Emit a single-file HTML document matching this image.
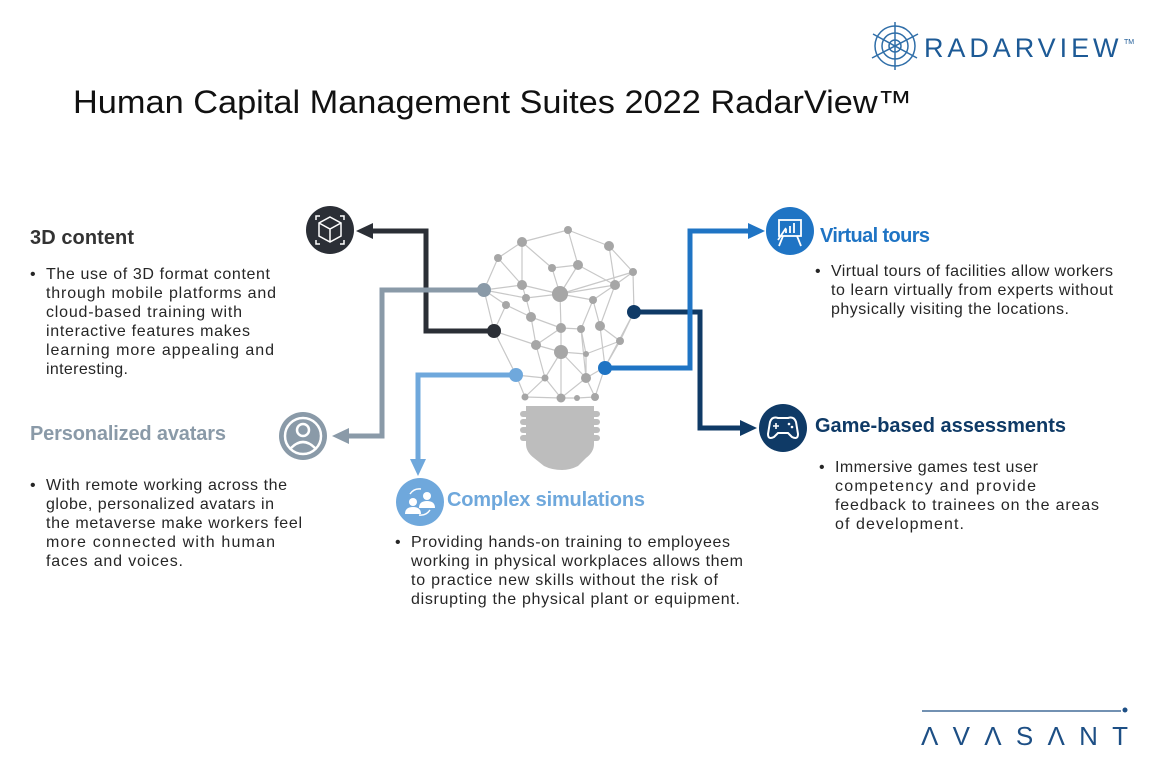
<!DOCTYPE html>
<html><head><meta charset="utf-8"><style>
html,body{margin:0;padding:0;background:#fff;}
svg{display:block;}
text{font-family:"Liberation Sans",sans-serif;}
.b{font-size:16px;fill:#262626;}
.h{font-size:20px;font-weight:bold;}
</style></head><body>
<svg width="1152" height="768" viewBox="0 0 1152 768" xmlns="http://www.w3.org/2000/svg">
<g stroke="#2f6ea8" fill="none" stroke-width="1.5">
<circle cx="895" cy="46" r="20"/><circle cx="895" cy="46" r="13"/><circle cx="895" cy="46" r="6"/>
<line x1="895" y1="22" x2="895" y2="70"/><line x1="872" y1="58" x2="918" y2="34"/><line x1="873" y1="34" x2="917" y2="58"/>
</g>
<text x="924" y="57" font-size="27" fill="#1d5a96" letter-spacing="3.5" textLength="198">RADARVIEW</text>
<text x="1124" y="44" font-size="7" fill="#1d5a96">TM</text>
<text x="73" y="113" font-size="32" fill="#111" textLength="839" lengthAdjust="spacingAndGlyphs">Human Capital Management Suites 2022 RadarView™</text>

<g stroke="#c8c8c8" stroke-width="1.2">
<path d="M568 230L522 242M568 230L578 265M568 230L609 246M522 242L498 258M522 242L552 268M522 242L522 285M498 258L484 290M498 258L522 285M552 268L578 265M552 268L560 294M578 265L615 285M578 265L560 294M609 246L615 285M609 246L633 272M633 272L615 285M633 272L634 312M615 285L593 300M615 285L600 326M615 285L560 294M522 285L484 290M522 285L526 298M522 285L560 294M484 290L494 331M484 290L506 305M484 290L526 298M526 298L560 294M526 298L531 317M506 305L531 317M506 305L494 331M560 294L593 300M560 294L561 328M593 300L600 326M593 300L581 329M600 326L620 341M600 326L605 367M620 341L634 312M620 341L605 367M620 341L586 354M531 317L536 345M531 317L561 328M494 331L536 345M494 331L516 375M536 345L561 328M536 345L561 352M536 345L545 378M561 328L581 329M561 328L561 352M581 329L586 354M561 352L545 378M561 352L586 378M561 352L586 354M561 352L561 398M586 354L586 378M586 378L605 367M586 378L595 397M586 378L561 398M545 378L516 375M545 378L525 397M545 378L561 398M516 375L525 397M525 397L561 398M561 398L577 398M577 398L595 397M595 397L605 367M581 329L586 378M560 294L633 272M634 312L605 367"/>
</g>
<g fill="#a6a6a6">
<circle cx="568" cy="230" r="4"/><circle cx="522" cy="242" r="5"/><circle cx="609" cy="246" r="5"/><circle cx="498" cy="258" r="4"/><circle cx="552" cy="268" r="4"/><circle cx="578" cy="265" r="5"/><circle cx="633" cy="272" r="4"/><circle cx="522" cy="285" r="5"/><circle cx="615" cy="285" r="5"/><circle cx="560" cy="294" r="8"/><circle cx="526" cy="298" r="4"/><circle cx="593" cy="300" r="4"/><circle cx="506" cy="305" r="4"/><circle cx="531" cy="317" r="5"/><circle cx="561" cy="328" r="5"/><circle cx="581" cy="329" r="4"/><circle cx="600" cy="326" r="5"/><circle cx="536" cy="345" r="5"/><circle cx="561" cy="352" r="7"/><circle cx="620" cy="341" r="4"/><circle cx="586" cy="354" r="3"/><circle cx="545" cy="378" r="3.5"/><circle cx="586" cy="378" r="5"/><circle cx="525" cy="397" r="3.5"/><circle cx="561" cy="398" r="4.5"/><circle cx="577" cy="398" r="3"/><circle cx="595" cy="397" r="4"/>
</g>
<g fill="#bdbdbd">
<path d="M526 406H594V444Q594 452 586 458L578 466Q570 470 562 470Q552 470 544 466L534 458Q526 452 526 444Z"/>
<rect x="520" y="411" width="80" height="6" rx="3"/><rect x="520" y="419" width="80" height="6" rx="3"/><rect x="520" y="427" width="80" height="6" rx="3"/><rect x="520" y="435" width="80" height="6" rx="3"/>
</g>

<g fill="none" stroke-width="5">
<path d="M494 331H426V231H372" stroke="#2b2f36"/>
<path d="M484 290H382V436H349" stroke="#8a9aa8"/>
<path d="M516 375H418V460" stroke="#6fa8dc"/>
<path d="M634 312H700V428H740" stroke="#0f3a66"/>
<path d="M605 368H690V231H748" stroke="#1f74c4"/>
</g>
<polygon points="356,231 373,223 373,239" fill="#2b2f36"/>
<polygon points="332,436 349,428 349,444" fill="#8a9aa8"/>
<polygon points="418,476 410,459 426,459" fill="#6fa8dc"/>
<polygon points="757,428 740,420 740,436" fill="#0f3a66"/>
<polygon points="765,231 748,223 748,239" fill="#1f74c4"/>
<circle cx="494" cy="331" r="7" fill="#2b2f36"/>
<circle cx="484" cy="290" r="7" fill="#8a9aa8"/>
<circle cx="516" cy="375" r="7" fill="#6fa8dc"/>
<circle cx="634" cy="312" r="7" fill="#0f3a66"/>
<circle cx="605" cy="368" r="7" fill="#1f74c4"/>

<circle cx="330" cy="230" r="24" fill="#2b2f36"/>
<g stroke="#fff" stroke-width="1.5" fill="none">
<path d="M330 217L341 223V236L330 242L319 236V223ZM319 223L330 229L341 223M330 229V242"/>
<path d="M316 220V216H320M340 216H344V220M344 240V244H340M320 244H316V240"/>
</g>
<circle cx="303" cy="436" r="24" fill="#8a9aa8"/>
<circle cx="303" cy="436" r="18" fill="none" stroke="#fff" stroke-width="2.5"/>
<circle cx="303" cy="430" r="6" fill="none" stroke="#fff" stroke-width="2.5"/>
<path d="M291 448Q303 436 315 448" fill="none" stroke="#fff" stroke-width="2.5"/>
<circle cx="420" cy="502" r="24" fill="#6fa8dc"/>
<g fill="#fff"><circle cx="413" cy="502" r="4"/><path d="M405 514Q405 507 413 507Q421 507 421 514Z"/><circle cx="427" cy="496" r="4"/><path d="M419 508Q419 501 427 501Q435 501 435 508Z"/></g>
<path d="M410 494Q414 488 421 489M430 510Q426 516 419 515" stroke="#fff" stroke-width="1.5" fill="none"/>
<circle cx="790" cy="231" r="24" fill="#1f74c4"/>
<g stroke="#fff" stroke-width="1.8" fill="none"><rect x="779" y="220" width="22" height="16"/><path d="M783 236L779 246M797 236L801 246M786 233V229M790 233V226M794 233V223M778 240L786 228"/></g>
<circle cx="783" cy="428" r="24" fill="#0f3a66"/>
<path d="M770 422Q772 416 778 418H788Q794 416 796 422L798 434Q798 440 792 437L788 433H778L774 437Q768 440 768 434Z" fill="none" stroke="#fff" stroke-width="2"/>
<path d="M776 423V429M773 426H779" stroke="#fff" stroke-width="1.6"/><circle cx="789" cy="424" r="1.3" fill="#fff"/><circle cx="792" cy="427" r="1.3" fill="#fff"/>

<text class="h" x="30" y="244" fill="#333" textLength="104">3D content</text>
<g class="b">
<text x="30" y="279">•</text>
<text x="46" y="279" textLength="224">The use of 3D format content</text>
<text x="46" y="298" textLength="230">through mobile platforms and</text>
<text x="46" y="317" textLength="196">cloud-based training with</text>
<text x="46" y="336" textLength="204">interactive features makes</text>
<text x="46" y="355" textLength="228">learning more appealing and</text>
<text x="46" y="374" textLength="82">interesting.</text>
</g>
<text class="h" x="30" y="440" fill="#8a9aa8" textLength="196">Personalized avatars</text>
<g class="b">
<text x="30" y="490">•</text>
<text x="46" y="490" textLength="241">With remote working across the</text>
<text x="46" y="509" textLength="228">globe, personalized avatars in</text>
<text x="46" y="528" textLength="256">the metaverse make workers feel</text>
<text x="46" y="547" textLength="229">more connected with human</text>
<text x="46" y="566" textLength="137">faces and voices.</text>
</g>
<text class="h" x="447" y="506" fill="#6fa8dc" textLength="198">Complex simulations</text>
<g class="b">
<text x="395" y="547">•</text>
<text x="411" y="547" textLength="319">Providing hands-on training to employees</text>
<text x="411" y="566" textLength="332">working in physical workplaces allows them</text>
<text x="411" y="585" textLength="307">to practice new skills without the risk of</text>
<text x="411" y="604" textLength="329">disrupting the physical plant or equipment.</text>
</g>
<text class="h" x="820" y="242" fill="#1f74c4" textLength="110">Virtual tours</text>
<g class="b">
<text x="815" y="276">•</text>
<text x="831" y="276" textLength="282">Virtual tours of facilities allow workers</text>
<text x="831" y="295" textLength="282">to learn virtually from experts without</text>
<text x="831" y="314" textLength="238">physically visiting the locations.</text>
</g>
<text class="h" x="815" y="432" fill="#0f3a66" textLength="251">Game-based assessments</text>
<g class="b">
<text x="819" y="472">•</text>
<text x="835" y="472" textLength="203">Immersive games test user</text>
<text x="835" y="491" textLength="201">competency and provide</text>
<text x="835" y="510" textLength="264">feedback to trainees on the areas</text>
<text x="835" y="529" textLength="129">of development.</text>
</g>

<line x1="922" y1="711" x2="1121" y2="711" stroke="#1d4f85" stroke-width="1.3"/>
<circle cx="1125" cy="710" r="2.5" fill="#1d4f85"/>
<text x="921" y="745" font-size="26" fill="#1d4f85" textLength="207" lengthAdjust="spacing">ΛVΛSΛNT</text>
</svg>
</body></html>
